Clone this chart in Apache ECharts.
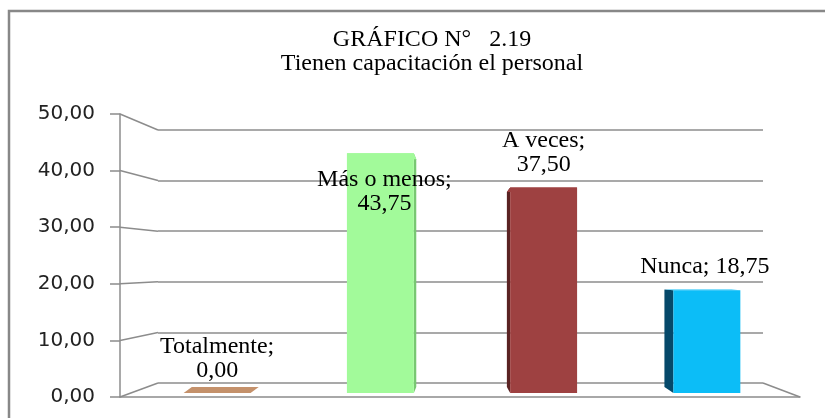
<!DOCTYPE html>
<html>
<head>
<meta charset="utf-8">
<script src="https://cdn.jsdelivr.net/npm/echarts@6/dist/echarts.min.js"></script>
<style>
  html, body { margin: 0; padding: 0; background: #fff; }
  #grafico { width: 825px; height: 418px; }
</style>
</head>
<body>
<div id="grafico"></div>
<script>
// datos del gráfico
const categorias = ["Totalmente", "Más o menos", "A veces", "Nunca"];
const porcentajes = [0, 43.75, 37.5, 18.75];
const ticksY = [0, 10, 20, 30, 40, 50];

// colores: cara frontal y cara lateral
const colorFrente = ["#c4916b", "#a2fa9a", "#9e4141", "#0cbdf7"];
const colorLado = ["#c4916b", "#78c872", "#5a2222", "#05496a"];
const gris = "#8c8c8c";

const fmt = v => v.toFixed(2).replace(".", ",");

let grafico = echarts.init(document.getElementById("grafico"));

// etiquetas de cada barra
let etiquetas = [
  { position: "top", distance: 10 },
  { position: "insideTop", distance: 14, offset: [4, 0] },
  { position: "top", distance: 11 },
  { position: "top", distance: 12, offset: [-2, 0] }
];

let option = {
  animation: false,
  title: {
    text: "GRÁFICO N°   2.19\nTienen capacitación el personal",
    left: 427,
    top: 23,
    textAlign: "center",
    textStyle: {
      fontFamily: "Liberation Serif",
      fontSize: 24,
      fontWeight: "normal",
      color: "#000",
      lineHeight: 24
    }
  },
  grid: [
    // eje frontal
    { left: 120, right: 25, top: 114, bottom: 21 },
    // pared del fondo
    { left: 158, right: 62, top: 130, bottom: 35 },
    // barras
    { left: 135.5, right: 36.5, top: 119, bottom: 25 }
  ],
  xAxis: [
    {
      gridIndex: 0, type: "value", min: 0, max: 1,
      axisLine: { show: true, lineStyle: { color: gris, width: 1.5 } },
      axisTick: { show: false }, axisLabel: { show: false }, splitLine: { show: false }
    },
    {
      gridIndex: 1, type: "value", min: 0, max: 1, show: false
    },
    {
      gridIndex: 2, type: "category", data: categorias, show: false
    }
  ],
  yAxis: [
    {
      gridIndex: 0, type: "value", min: 0, max: 50, interval: 10,
      axisLine: { show: true, lineStyle: { color: gris, width: 1.5 } },
      axisTick: { show: true, inside: false, length: 10, lineStyle: { color: gris, width: 1.5 } },
      axisLabel: {
        margin: 25,
        formatter: v => fmt(v),
        fontFamily: "DejaVu Sans",
        fontSize: 20,
        color: "#222"
      },
      splitLine: { show: false }
    },
    {
      gridIndex: 1, type: "value", min: 0, max: 50, interval: 10,
      axisLine: { show: false }, axisTick: { show: false }, axisLabel: { show: false },
      splitLine: { show: true, lineStyle: { color: gris, width: 1.5 } }
    },
    {
      gridIndex: 2, type: "value", min: 0, max: 50, show: false
    }
  ],
  series: [
    {
      // caras laterales y superiores (efecto 3D)
      type: "custom",
      xAxisIndex: 2,
      yAxisIndex: 2,
      z: 1,
      silent: true,
      data: porcentajes.map((v, i) => [i, v]),
      renderItem: function(params, api) {
        let i = api.value(0);
        let base = api.coord([i, 0]);
        let cima = api.coord([i, api.value(1)]);
        let w = api.size([1, 0])[0] * 0.41;
        let xl = base[0] - w / 2;
        let xr = base[0] + w / 2;
        let dx = -0.035 * (base[0] - 450);
        let dyB = -(base[1] - 275) * 0.05;
        let dyT = -(cima[1] - 275) * 0.05;
        let xe = dx < 0 ? xl : xr;
        return {
          type: "group",
          children: [
            {
              type: "polygon",
              shape: { points: [[xe, base[1]], [xe, cima[1]], [xe + dx, cima[1] + dyT], [xe + dx, base[1] + dyB]] },
              style: { fill: colorLado[i] }
            },
            {
              type: "polygon",
              shape: { points: [[xl, cima[1]], [xr, cima[1]], [xr + dx, cima[1] + dyT], [xl + dx, cima[1] + dyT]] },
              style: { fill: colorFrente[i] }
            }
          ]
        };
      }
    },
    {
      type: "bar",
      xAxisIndex: 2,
      yAxisIndex: 2,
      z: 2,
      barWidth: "41%",
      data: porcentajes.map((v, i) => ({
        value: v,
        itemStyle: { color: colorFrente[i] },
        label: etiquetas[i]
      })),
      label: {
        show: true,
        fontFamily: "Liberation Serif",
        fontSize: 24,
        lineHeight: 24,
        color: "#000",
        formatter: p => p.dataIndex === 3
          ? p.name + "; " + fmt(p.value)
          : p.name + ";\n" + fmt(p.value)
      }
    }
  ]
};

grafico.setOption(option);

// líneas de unión entre el eje frontal y la pared del fondo
let lineas = ticksY.map(v => {
  let a = grafico.convertToPixel({ gridIndex: 0 }, [0, v]);
  let b = grafico.convertToPixel({ gridIndex: 1 }, [0, v]);
  return {
    type: "line",
    shape: { x1: a[0], y1: a[1], x2: b[0], y2: b[1] },
    style: { stroke: gris, lineWidth: 1.5 },
    z: 0
  };
});
let pa = grafico.convertToPixel({ gridIndex: 1 }, [1, 0]);
let pb = grafico.convertToPixel({ gridIndex: 0 }, [1, 0]);
lineas.push({
  type: "line",
  shape: { x1: pa[0], y1: pa[1], x2: pb[0], y2: pb[1] },
  style: { stroke: gris, lineWidth: 1.5 },
  z: 0
});
// marco exterior
lineas.push({
  type: "rect",
  shape: { x: 9, y: 11, width: 830, height: 420 },
  style: { fill: null, stroke: "#888", lineWidth: 2.5 },
  z: 0
});

grafico.setOption({ graphic: lineas });
</script>
</body>
</html>
